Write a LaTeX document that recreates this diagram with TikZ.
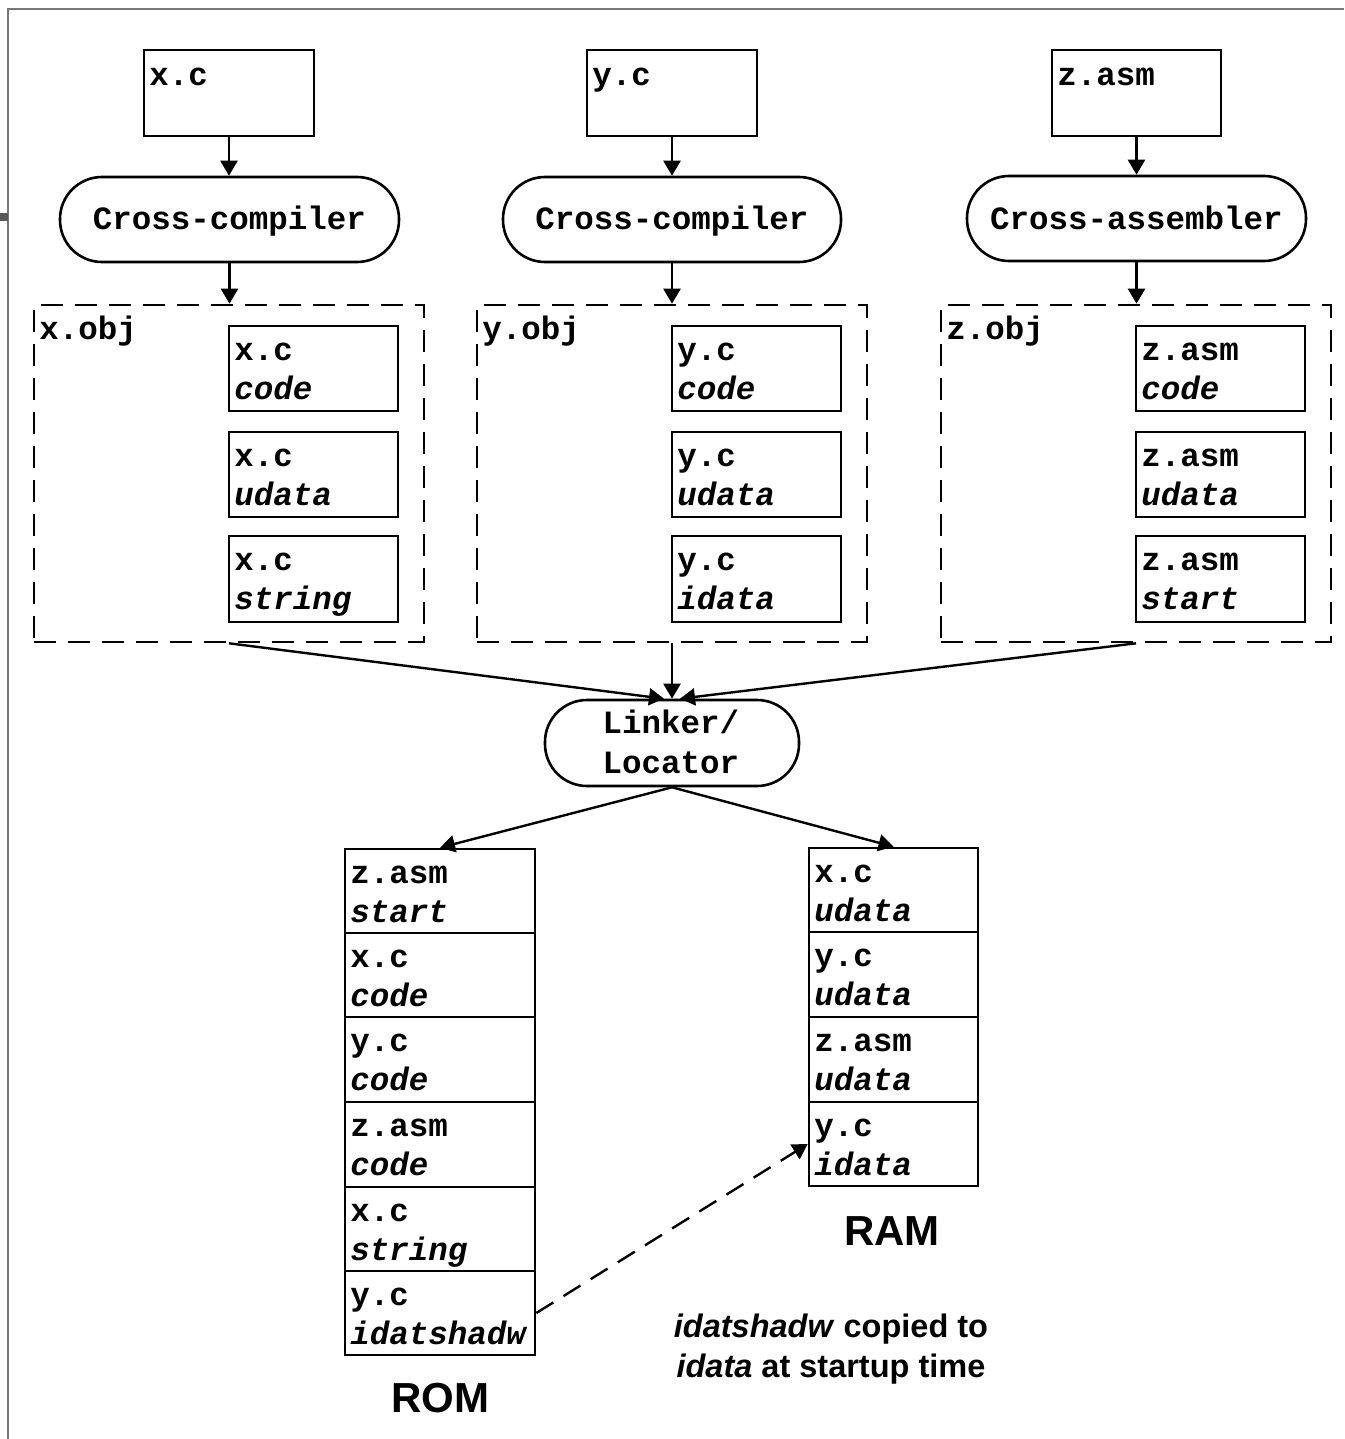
\documentclass[tikz,border=0pt]{standalone}
\usepackage{fontspec}
\setmonofont{Liberation Mono}
\setsansfont{Liberation Sans}
\usetikzlibrary{arrows.meta,fit,calc}
\tikzset{
  box/.style={draw, line width=1.3pt, inner sep=0pt},
  objbox/.style={draw, line width=1.3pt, inner sep=0pt, dash pattern=on 11pt off 6pt},
  stadium/.style={draw, line width=1.3pt, inner sep=0pt, rounded corners=21pt},
  mono/.style={font=\fontsize{16.25pt}{20pt}\selectfont\ttfamily\bfseries, inner sep=0pt},
  monoi/.style={font=\fontsize{16.25pt}{20pt}\selectfont\ttfamily\bfseries\itshape, inner sep=0pt},
  sanslbl/.style={font=\fontsize{16.25pt}{20pt}\selectfont\sffamily\bfseries, inner sep=0pt},
  biglbl/.style={font=\fontsize{21pt}{25pt}\selectfont\sffamily\bfseries, inner sep=0pt},
  arr/.style={line width=1.2pt, -{Triangle[length=7.5pt,width=8.5pt]}},
  darr/.style={line width=1.2pt, dash pattern=on 10pt off 6pt, -{Triangle[length=7.5pt,width=8.5pt]}},
}
% \cellbox{name}{x1}{y1}{x2}{y2}{line1}{line2}
\newcommand{\cellbox}[7]{%
  \node[box, fit={(#2,#3)(#4,#5)}] (#1) {};
  \node[mono, anchor=base west] (#1-a) at ({#2+5},{#3+34}) {#6};
  \node[monoi, anchor=base west] (#1-b) at ({#2+5},{#3+73}) {#7};
}
\begin{document}
\begin{tikzpicture}[x=0.5pt,y=-0.5pt]
\useasboundingbox (0,0) rectangle (1344,1439);
% frame
\draw[color=gray!95!black, line width=1pt] (8,1439) -- (8,9) -- (1344,9);
\fill[black!65] (0,213) rectangle (8,221);

% source files
\node[box, fit={(144,50)(314,136)}] (xc) {};
\node[mono, anchor=base west] (xc-t) at (149,86) {x.c};
\node[box, fit={(587,50)(757,136)}] (yc) {};
\node[mono, anchor=base west] (yc-t) at (592,86) {y.c};
\node[box, fit={(1052,50)(1221,136)}] (zasm) {};
\node[mono, anchor=base west] (zasm-t) at (1057,86) {z.asm};

% tools
\node[stadium, fit={(60,177)(399,262)}] (cc1) {};
\node[mono, anchor=base] (cc1-t) at (229.5,230) {Cross-compiler};
\node[stadium, fit={(503,177)(841,262)}] (cc2) {};
\node[mono, anchor=base] (cc2-t) at (672,230) {Cross-compiler};
\node[stadium, fit={(967,176)(1306,261)}] (ca) {};
\node[mono, anchor=base] (ca-t) at (1136.5,229) {Cross-assembler};

% object files
\node[objbox, fit={(34,305)(424,642)}] (xobj) {};
\node[mono, anchor=base west] (xobj-t) at (39,339) {x.obj};
\node[objbox, fit={(477,305)(867,642)}] (yobj) {};
\node[mono, anchor=base west] (yobj-t) at (482,339) {y.obj};
\node[objbox, fit={(941,305)(1331,642)}] (zobj) {};
\node[mono, anchor=base west] (zobj-t) at (946,339) {z.obj};

\cellbox{xo1}{229}{326}{398}{411}{x.c}{code}
\cellbox{xo2}{229}{432}{398}{517}{x.c}{udata}
\cellbox{xo3}{229}{536}{398}{622}{x.c}{string}
\cellbox{yo1}{672}{326}{841}{411}{y.c}{code}
\cellbox{yo2}{672}{432}{841}{517}{y.c}{udata}
\cellbox{yo3}{672}{536}{841}{622}{y.c}{idata}
\cellbox{zo1}{1136}{326}{1305}{411}{z.asm}{code}
\cellbox{zo2}{1136}{432}{1305}{517}{z.asm}{udata}
\cellbox{zo3}{1136}{536}{1305}{622}{z.asm}{start}

% linker
\node[stadium, fit={(545,700)(799,786)}] (lk) {};
\node[mono, anchor=base] (lk-a) at (671,733) {Linker/};
\node[mono, anchor=base] (lk-b) at (671,773) {Locator};

% ROM
\cellbox{rom1}{345}{849}{535}{933}{z.asm}{start}
\cellbox{rom2}{345}{933}{535}{1017}{x.c}{code}
\cellbox{rom3}{345}{1017}{535}{1102}{y.c}{code}
\cellbox{rom4}{345}{1102}{535}{1187}{z.asm}{code}
\cellbox{rom5}{345}{1187}{535}{1271}{x.c}{string}
\cellbox{rom6}{345}{1271}{535}{1355}{y.c}{idatshadw}
\node[biglbl, anchor=base] (romlbl) at (440,1412) {ROM};

% RAM
\cellbox{ram1}{809}{848}{978}{932}{x.c}{udata}
\cellbox{ram2}{809}{932}{978}{1017}{y.c}{udata}
\cellbox{ram3}{809}{1017}{978}{1102}{z.asm}{udata}
\cellbox{ram4}{809}{1102}{978}{1186}{y.c}{idata}
\node[biglbl, anchor=base] (ramlbl) at (892,1245) {RAM};

% note
\node[sanslbl, anchor=base] (note1) at (831,1337) {\textit{idatshadw} copied to};
\node[sanslbl, anchor=base] (note2) at (831,1377) {\textit{idata} at startup time};

% connectors
\draw[arr] (xc.south) -- (xc.south |- cc1.north);
\draw[arr] (yc.south) -- (yc.south |- cc2.north);
\draw[arr] (zasm.south) -- (zasm.south |- ca.north);
\draw[arr] (cc1.south) -- (cc1.south |- xobj.north);
\draw[arr] (cc2.south) -- (cc2.south |- yobj.north);
\draw[arr] (ca.south) -- (ca.south |- zobj.north);

\coordinate (lkL) at ($(lk.north)+(-8,0)$);
\coordinate (lkR) at ($(lk.north)+(8,0)$);
\draw[arr] (xobj.south) -- (lkL);
\draw[arr] (yobj.south) -- (lk.north);
\draw[arr] (zobj.south) -- (lkR);

\draw[arr] (lk.south) -- (rom1.north);
\draw[arr] (lk.south) -- (ram1.north);

\draw[darr] (rom6.east) -- (ram4.west);
\end{tikzpicture}
\end{document}
